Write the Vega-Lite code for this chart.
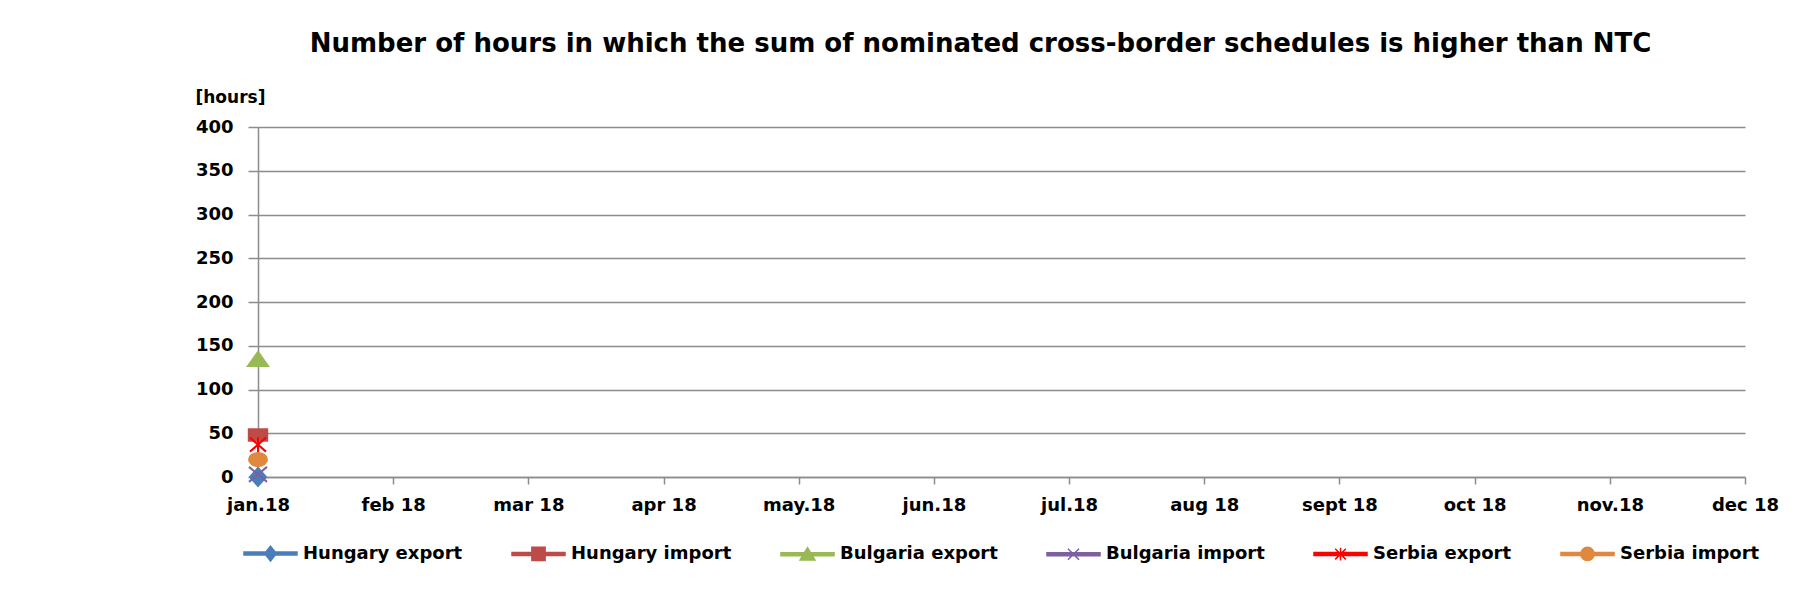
{
  "$schema": "https://vega.github.io/schema/vega-lite/v6.json",
  "width": 1487,
  "height": 350,
  "autosize": "none",
  "padding": {"left": 258, "top": 127, "right": 51, "bottom": 128},
  "background": "white",
  "title": {
    "text": "Number of hours in which the sum of nominated cross-border schedules is higher than NTC",
    "font": "DejaVu Sans",
    "fontSize": 26,
    "fontWeight": "bold",
    "color": "black",
    "anchor": "middle",
    "frame": "group",
    "dx": -21,
    "offset": 31
  },
  "data": {
    "values": [
      {"month": "jan.18", "series": "Hungary export", "hours": 0},
      {"month": "jan.18", "series": "Hungary import", "hours": 48},
      {"month": "jan.18", "series": "Bulgaria export", "hours": 135},
      {"month": "jan.18", "series": "Bulgaria import", "hours": 3},
      {"month": "jan.18", "series": "Serbia export", "hours": 37},
      {"month": "jan.18", "series": "Serbia import", "hours": 20}
    ]
  },
  "encoding": {
    "x": {
      "field": "month",
      "type": "ordinal",
      "sort": null,
      "scale": {
        "type": "point",
        "padding": 0,
        "domain": ["jan.18", "feb 18", "mar 18", "apr 18", "may.18", "jun.18", "jul.18", "aug 18", "sept 18", "oct 18", "nov.18", "dec 18"]
      },
      "axis": {
        "title": null,
        "labelAngle": 0,
        "labelFont": "DejaVu Sans",
        "labelFontSize": 18,
        "labelFontWeight": "bold",
        "labelColor": "black",
        "labelPadding": 12,
        "tickSize": 7,
        "tickWidth": 1.5,
        "tickColor": "#8c8c8c",
        "domainColor": "#8c8c8c",
        "domainWidth": 1.5,
        "grid": false
      }
    },
    "y": {
      "field": "hours",
      "type": "quantitative",
      "scale": {"domain": [0, 400], "nice": false},
      "axis": {
        "values": [0, 50, 100, 150, 200, 250, 300, 350, 400],
        "title": "[hours]",
        "titleAngle": 0,
        "titleX": -63,
        "titleY": -30,
        "titleAlign": "left",
        "titleBaseline": "middle",
        "titleFont": "DejaVu Sans",
        "titleFontSize": 17,
        "titleFontWeight": "bold",
        "titleColor": "black",
        "labelFont": "DejaVu Sans",
        "labelFontSize": 18,
        "labelFontWeight": "bold",
        "labelColor": "black",
        "labelPadding": 15,
        "tickSize": 10,
        "tickWidth": 1.5,
        "tickColor": "#8c8c8c",
        "domainColor": "#8c8c8c",
        "domainWidth": 1.5,
        "grid": true,
        "gridColor": "#8c8c8c",
        "gridWidth": 1.5
      }
    }
  },
  "layer": [
    {
      "mark": {"type": "point", "filled": true, "size": 400, "strokeWidth": 2, "opacity": 1},
      "encoding": {
        "fill": {
          "field": "series",
          "type": "nominal",
          "scale": {
            "domain": ["Hungary export", "Hungary import", "Bulgaria export", "Bulgaria import", "Serbia export", "Serbia import"],
            "range": ["#4a7ebb", "#be4b48", "#98b954", "#7d60a0", "#ff0000", "#e0883e"]
          },
          "legend": null
        },
        "stroke": {
          "field": "series",
          "type": "nominal",
          "scale": {
            "domain": ["Hungary export", "Hungary import", "Bulgaria export", "Bulgaria import", "Serbia export", "Serbia import"],
            "range": ["#4a7ebb", "#be4b48", "#98b954", "#7d60a0", "#ff0000", "#e0883e"]
          },
          "legend": null
        },
        "shape": {
          "field": "series",
          "type": "nominal",
          "scale": {
            "domain": ["Hungary export", "Hungary import", "Bulgaria export", "Bulgaria import", "Serbia export", "Serbia import"],
            "range": [
              "M0,-0.9L0.8,0L0,0.9L-0.8,0Z",
              "M-0.92,-0.58H0.92V0.58H-0.92Z",
              "M0,-0.7L1,0.7L-1,0.7Z",
              "M-0.9,-0.75L0.9,0.75M-0.9,0.75L0.9,-0.75",
              "M-0.8,-0.7L0.8,0.7M-0.8,0.7L0.8,-0.7M0,-0.75V0.75",
              "M-0.9,0A0.9,0.65 0 1,1 0.9,0A0.9,0.65 0 1,1 -0.9,0Z"
            ]
          },
          "legend": null
        }
      }
    },
    {
      "transform": [{"filter": "datum.hours < 0"}],
      "mark": {"type": "point", "filled": true, "size": 2809, "strokeWidth": 1.5, "opacity": 1},
      "encoding": {
        "fill": {
          "field": "series",
          "type": "nominal",
          "scale": {
            "domain": ["Hungary export", "Hungary import", "Bulgaria export", "Bulgaria import", "Serbia export", "Serbia import"],
            "range": ["#4a7ebb", "#be4b48", "#98b954", "#7d60a0", "#ff0000", "#e0883e"]
          },
          "legend": {
            "title": null,
            "orient": "none",
            "legendX": -15,
            "legendY": 399,
            "direction": "horizontal",
            "columns": 6,
            "columnPadding": 46,
            "symbolSize": 2809,
            "symbolStrokeWidth": 1.5,
            "labelOffset": 5,
            "labelFont": "DejaVu Sans",
            "labelFontSize": 18,
            "labelFontWeight": "bold",
            "labelColor": "black",
            "labelLimit": 400
          }
        },
        "stroke": {
          "field": "series",
          "type": "nominal",
          "scale": {
            "domain": ["Hungary export", "Hungary import", "Bulgaria export", "Bulgaria import", "Serbia export", "Serbia import"],
            "range": ["#4a7ebb", "#be4b48", "#98b954", "#7d60a0", "#ff0000", "#e0883e"]
          },
          "legend": {
            "title": null,
            "orient": "none",
            "legendX": -15,
            "legendY": 399,
            "direction": "horizontal",
            "columns": 6,
            "columnPadding": 46,
            "symbolSize": 2809,
            "symbolStrokeWidth": 1.5,
            "labelOffset": 5,
            "labelFont": "DejaVu Sans",
            "labelFontSize": 18,
            "labelFontWeight": "bold",
            "labelColor": "black",
            "labelLimit": 400
          }
        },
        "shape": {
          "field": "series",
          "type": "nominal",
          "scale": {
            "domain": ["Hungary export", "Hungary import", "Bulgaria export", "Bulgaria import", "Serbia export", "Serbia import"],
            "range": [
              "M-1,-0.055H1V0.055H-1ZM0,-0.28L0.22,0L0,0.28L-0.22,0Z",
              "M-1,-0.055H1V0.055H-1ZM-0.25,-0.25H0.25V0.25H-0.25Z",
              "M-1,-0.055H1V0.055H-1ZM0,-0.25L0.28,0.22H-0.28Z",
              "M-1,-0.055H1V0.055H-1ZM-0.21,-0.21L0.21,0.21M-0.21,0.21L0.21,-0.21",
              "M-1,-0.055H1V0.055H-1ZM-0.2,-0.2L0.2,0.2M-0.2,0.2L0.2,-0.2M0,-0.24V0.24",
              "M-1,-0.055H1V0.055H-1ZM-0.25,0A0.25,0.25 0 1,1 0.25,0A0.25,0.25 0 1,1 -0.25,0Z"
            ]
          },
          "legend": {
            "title": null,
            "orient": "none",
            "legendX": -15,
            "legendY": 399,
            "direction": "horizontal",
            "columns": 6,
            "columnPadding": 46,
            "symbolSize": 2809,
            "symbolStrokeWidth": 1.5,
            "labelOffset": 5,
            "labelFont": "DejaVu Sans",
            "labelFontSize": 18,
            "labelFontWeight": "bold",
            "labelColor": "black",
            "labelLimit": 400
          }
        }
      }
    }
  ],
  "resolve": {"scale": {"fill": "independent", "stroke": "independent", "shape": "independent"}},
  "config": {
    "view": {"stroke": null}
  }
}
